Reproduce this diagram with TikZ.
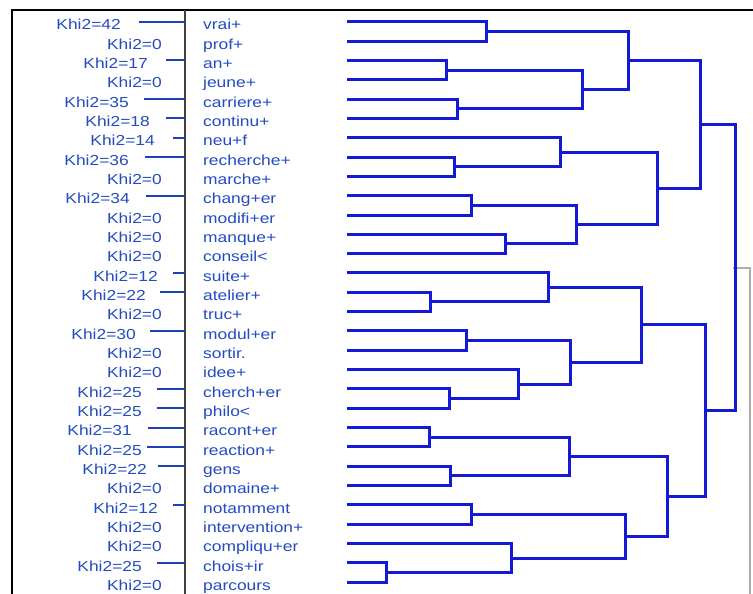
\documentclass[tikz,border=0pt]{standalone}
\usepackage{fontspec}
\setmainfont{Liberation Sans}[FakeStretch=1.2]
\usetikzlibrary{calc}

\definecolor{labelblue}{RGB}{35,75,195}
\definecolor{treeblue}{RGB}{20,25,215}
\definecolor{stubblue}{RGB}{30,65,185}
\definecolor{boxgray}{RGB}{175,175,175}

\tikzset{
  dend/.style={draw=treeblue, line width=3pt},
  stub/.style={draw=stubblue, line width=1.8pt},
  khi/.style={anchor=base east, inner sep=0pt, text=labelblue,
              font=\fontsize{14.5}{17}\selectfont},
  word/.style={anchor=base west, inner sep=0pt, text=labelblue,
               font=\fontsize{14.5}{17}\selectfont},
  rulebar/.style={draw=black, line width=2.5pt},
  divider/.style={draw=black!75, line width=1.5pt},
  boxline/.style={draw=boxgray, line width=1.5pt},
}

% join two clusters #3 and #4 at height x=#2, naming the new cluster #1
\newcommand\dmerge[4]{%
  \path let \p1=(#3), \p2=(#4) in (#2pt,{0.5*(\y1+\y2)}) coordinate (#1);
  \draw[dend] (#3) -- (#3 -| #1) -- (#4 -| #1) -- (#4);
}

\begin{document}
\begin{tikzpicture}[x=1pt,y=-1pt]
\useasboundingbox (0,0) rectangle (753,594);
\fill[white] (0,0) rectangle (753,594);

% outer rules and column divider
\coordinate (divtop) at (185,10);
\coordinate (divbot) at (185,594);
\draw[rulebar] (12,594) -- (12,10) -- (753,10);
\draw[divider] (divtop) -- (divbot);

% scale box at the right edge
\draw[boxline] (733,268) -- (750,268) -- (750,594);

% rows: index / word / chi-square / right edge of its label
\foreach \i/\w/\k/\tx in {
  0/vrai+/42/121, 1/prof+/0/162, 2/an+/17/148, 3/jeune+/0/162,
  4/carriere+/35/129, 5/continu+/18/150, 6/neu+f/14/155,
  7/recherche+/36/129, 8/marche+/0/162, 9/chang+er/34/130,
  10/modifi+er/0/162, 11/manque+/0/162, 12/conseil</0/162,
  13/suite+/12/158, 14/atelier+/22/146, 15/truc+/0/162,
  16/modul+er/30/136, 17/sortir./0/162, 18/idee+/0/162,
  19/cherch+er/25/142, 20/philo</25/142, 21/racont+er/31/132,
  22/reaction+/25/142, 23/gens/22/147, 24/domaine+/0/162,
  25/notamment/12/158, 26/intervention+/0/162, 27/compliqu+er/0/162,
  28/chois+ir/25/142, 29/parcours/0/162}{
  \pgfmathsetmacro\yy{21.7+19.33*\i}
  \coordinate (l\i) at (347,\yy);
  \node[khi] (k\i) at (\tx,\yy+8.3) {Khi2=\k};
  \node[word] (w\i) at (203,\yy+8.3) {\w};
}

% chi-square bars, running into the divider
\foreach \i/\s in {0/139, 2/166, 4/144, 5/166, 6/173, 7/145, 9/146,
  13/173, 14/160, 16/150, 19/157, 20/157, 21/148, 22/147, 23/158,
  25/173, 28/157}{
  \pgfmathsetmacro\yy{21.7+19.33*\i}
  \coordinate (s\i) at (\s,\yy);
  \draw[stub] (s\i) -- (s\i -| divtop);
}

% dendrogram, upper class
\dmerge{a01}{486.7}{l0}{l1}
\dmerge{a23}{446.7}{l2}{l3}
\dmerge{a45}{457.7}{l4}{l5}
\dmerge{a25}{582.3}{a23}{a45}
\dmerge{a05}{628.3}{a01}{a25}
\dmerge{a78}{454.3}{l7}{l8}
\dmerge{a68}{560.7}{l6}{a78}
\dmerge{a910}{471}{l9}{l10}
\dmerge{a1112}{505.7}{l11}{l12}
\dmerge{a912}{576.7}{a910}{a1112}
\dmerge{a612}{657.7}{a68}{a912}
\dmerge{a012}{700}{a05}{a612}

% dendrogram, lower class
\dmerge{b1415}{430}{l14}{l15}
\dmerge{b1315}{548.3}{l13}{b1415}
\dmerge{b1617}{466.7}{l16}{l17}
\dmerge{b1920}{449.3}{l19}{l20}
\dmerge{b1820}{518.3}{l18}{b1920}
\dmerge{b1620}{570.7}{b1617}{b1820}
\dmerge{b1320}{641.7}{b1315}{b1620}
\dmerge{b2122}{429}{l21}{l22}
\dmerge{b2324}{450}{l23}{l24}
\dmerge{b2124}{569.3}{b2122}{b2324}
\dmerge{b2526}{471.7}{l25}{l26}
\dmerge{b2829}{386}{l28}{l29}
\dmerge{b2729}{511}{l27}{b2829}
\dmerge{b2529}{625}{b2526}{b2729}
\dmerge{b2129}{667.3}{b2124}{b2529}
\dmerge{b1329}{705}{b1320}{b2129}

% root
\dmerge{root}{735}{a012}{b1329}
\end{tikzpicture}
\end{document}
